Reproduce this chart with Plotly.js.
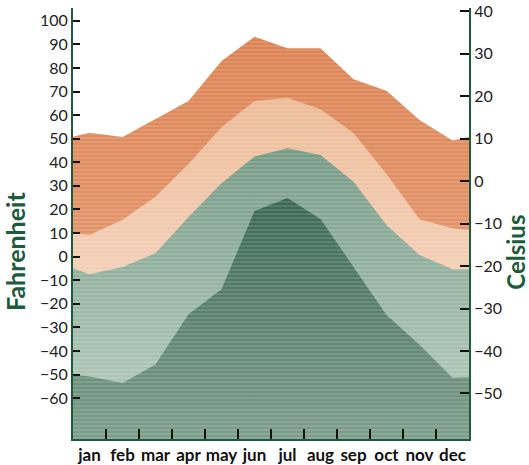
<!DOCTYPE html>
<html>
<head>
<meta charset="utf-8">
<script src="https://cdn.plot.ly/plotly-3.0.1.min.js"></script>
<style>html,body{margin:0;padding:0;background:#fff;}#chart{width:529px;height:465px;}</style>
</head>
<body>
<div id="chart"></div>
<script>
// Categories
const months = ['jan','feb','mar','apr','may','jun','jul','aug','sep','oct','nov','dec'];
// Month positions; first and last entries are the left / right edges of the chart (values at the edges)
const monthPos = [0.5, 1, 2, 3, 4, 5, 6, 7, 8, 9, 10, 11, 12, 12.5];
// Series values in degrees Fahrenheit (edge, jan..dec, edge)
const recordHigh = [50.8, 52.5, 50.7, 58.3, 66.0, 82.9, 93.2, 88.3, 88.3, 75.2, 70.3, 57.9, 49.2, 50.7];
const avgHigh    = [9.9, 9.2, 15.6, 25.4, 39.3, 54.8, 66.0, 67.4, 62.5, 52.4, 35.0, 15.8, 12.0, 11.3];
const avgLow     = [-4.9, -7.5, -4.4, 1.4, 16.8, 31.1, 42.4, 45.9, 43.1, 31.8, 13.4, 0.7, -5.3, -5.3];
const recordLow  = [-50.1, -50.8, -53.6, -45.7, -24.4, -13.8, 19.4, 24.9, 16.0, -4.4, -24.7, -37.4, -51.3, -51.0];
// Axis ticks
const fTicks = [100, 90, 80, 70, 60, 50, 40, 30, 20, 10, 0, -10, -20, -30, -40, -50, -60];
const cTicks = [40, 30, 20, 10, 0, -10, -20, -30, -40, -50];
// Axis titles
const leftTitle = 'Fahrenheit';
const rightTitle = 'Celsius';

const fRange = [-77.3, 105.4];
const toC = f => (f - 32) / 1.8;
const cRange = [toC(fRange[0]), toC(fRange[1])];
const xRange = [monthPos[0], monthPos[monthPos.length - 1]];
const boundaries = months.slice(1).map((m, i) => i + 1.5);
const green = '#1d5b3d';
const FONT = 'Lato, "Open Sans", sans-serif';

function band(vals, c0, c1, start, stop) {
  return {
    type: 'scatter', mode: 'lines', hoverinfo: 'skip', showlegend: false,
    x: monthPos.concat([xRange[1], xRange[0]]),
    y: vals.concat([fRange[0], fRange[0]]),
    fill: 'toself', line: {width: 0, color: 'rgba(0,0,0,0)'},
    fillcolor: c0,
    fillgradient: {type: 'vertical', start: start, stop: stop, colorscale: [[0, c0], [1, c1]]}
  };
}

const traces = [
  band(recordHigh, '#e39469', '#dc8353', 7, 96),
  band(avgHigh, '#f3cfb6', '#edbb97', -5, 67),
  band(avgLow, '#adc5b6', '#769a86', -50, 46),
  band(recordLow, '#7e9e8b', '#3a684f', -77, 25),
  {
    type: 'scatter', mode: 'lines', hoverinfo: 'skip', showlegend: false,
    x: monthPos.concat([xRange[1], xRange[0]]),
    y: recordHigh.concat([fRange[0], fRange[0]]),
    fill: 'toself', line: {width: 0, color: 'rgba(0,0,0,0)'},
    fillcolor: 'rgba(0,0,0,0)',
    fillpattern: {shape: '-', size: 4, solidity: 0.25, fgcolor: '#ffffff', fgopacity: 0.25, bgcolor: 'rgba(0,0,0,0)'}
  },
  {
    type: 'scatter', mode: 'none', hoverinfo: 'skip', showlegend: false,
    x: monthPos, y: avgLow.map(toC), xaxis: 'x2', yaxis: 'y2'
  }
];

const layout = {
  width: 529, height: 465,
  margin: {l: 73, r: 60, t: 8, b: 26},
  paper_bgcolor: '#fff', plot_bgcolor: '#fff',
  showlegend: false,
  font: {family: FONT, color: '#222', size: 15},
  xaxis: {
    range: xRange, tickvals: monthPos.slice(1, -1), ticktext: months,
    ticks: '', showgrid: false, zeroline: false,
    showline: true, linecolor: green, linewidth: 2,
    tickfont: {family: FONT, size: 17, color: '#111', weight: 'bold'}
  },
  xaxis2: {
    overlaying: 'x', side: 'bottom', range: xRange,
    tickvals: boundaries, ticktext: boundaries.map(() => ''),
    ticks: 'inside', ticklen: 10, tickwidth: 2, tickcolor: '#111',
    showgrid: false, zeroline: false, showline: false
  },
  yaxis: {
    range: fRange, tickvals: fTicks, ticks: 'inside', ticklen: 7, tickwidth: 2, tickcolor: '#111',
    showgrid: false, zeroline: false, showline: true, linecolor: green, linewidth: 2,
    tickfont: {family: FONT, size: 16, color: '#222'}
  },
  yaxis2: {
    overlaying: 'y', side: 'right', range: cRange, tickvals: cTicks,
    ticks: 'inside', ticklen: 9, tickwidth: 2, tickcolor: '#111',
    showgrid: false, zeroline: false, showline: true, linecolor: green, linewidth: 2,
    tickfont: {family: FONT, size: 16, color: '#222'}
  },
  annotations: [
    {text: leftTitle, xref: 'paper', yref: 'paper', x: -0.1465, y: 0.436, textangle: -90,
     xanchor: 'center', yanchor: 'middle', showarrow: false,
     font: {family: FONT, size: 25, color: green, weight: 'bold'}},
    {text: rightTitle, xref: 'paper', yref: 'paper', x: 1.118, y: 0.434, textangle: -90,
     xanchor: 'center', yanchor: 'middle', showarrow: false,
     font: {family: FONT, size: 24, color: green, weight: 'bold'}}
  ]
};

Plotly.newPlot('chart', traces, layout, {staticPlot: true, displayModeBar: false});
</script>
</body>
</html>
